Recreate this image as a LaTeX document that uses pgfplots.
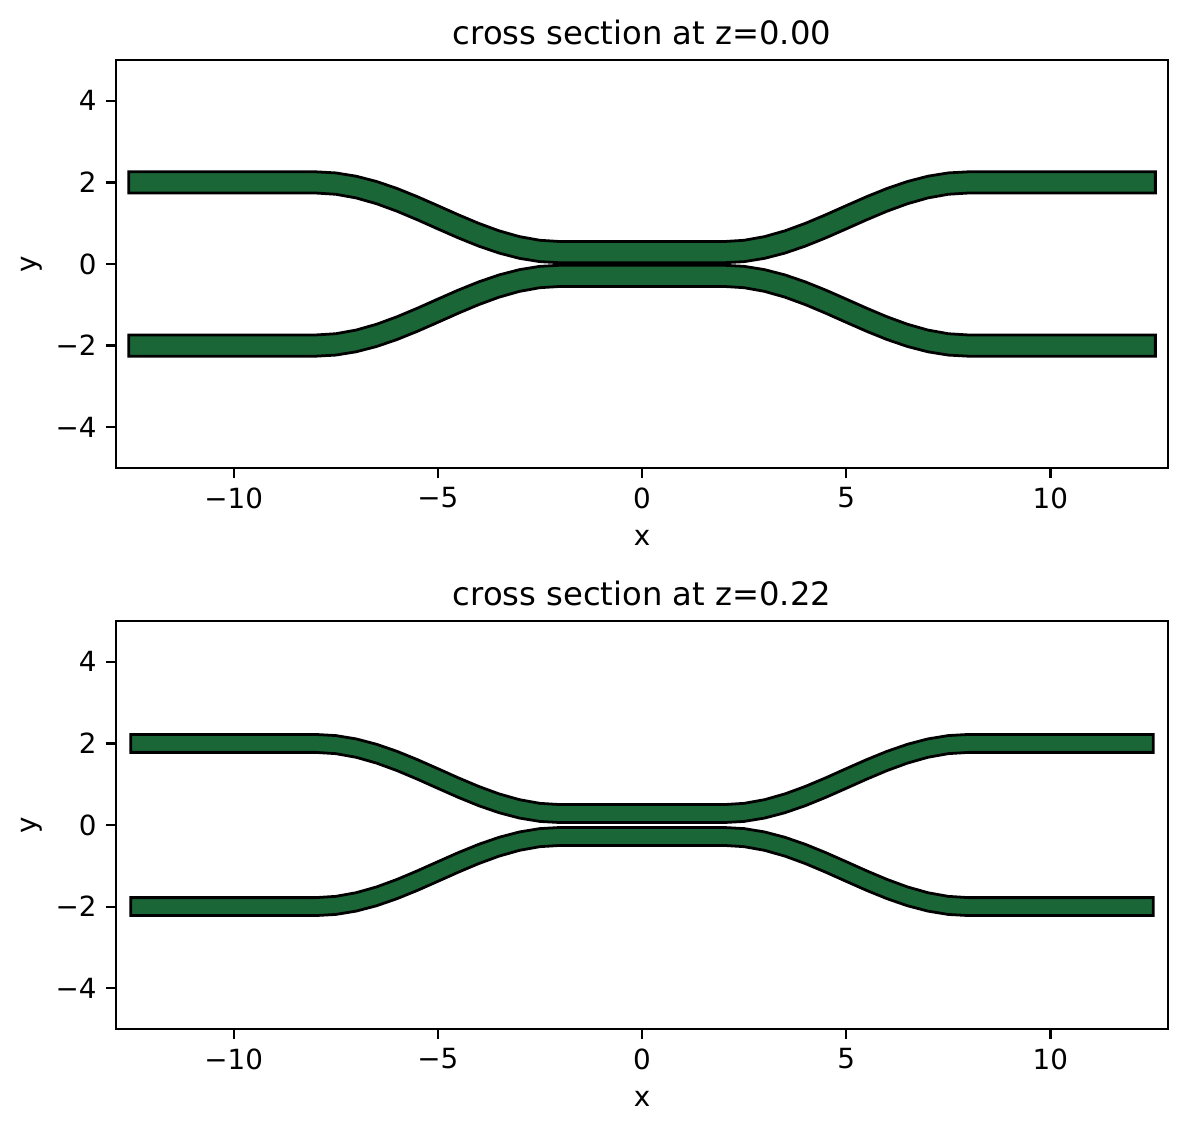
\documentclass[border=0pt]{standalone}
\usepackage{fontspec}
\setmainfont{DejaVu Sans}
\usepackage{pgfplots}
\pgfplotsset{compat=1.18}
\definecolor{wg}{RGB}{27,102,55}
\pgfplotsset{
 wgax/.style={
  scale only axis, width=378.72pt, height=146.88pt,
  xmin=-12.88, xmax=12.88, ymin=-5, ymax=5,
  xtick={-10,-5,0,5,10}, xticklabels={−10,−5,0,5,10},
  ytick={-4,-2,0,2,4}, yticklabels={−4,−2,0,2,4},
  tick align=outside, xtick pos=bottom, ytick pos=left,
  major tick length=3.5pt,
  every tick/.style={black, line width=0.8pt},
  axis line style={line width=0.8pt},
  tick label style={font=\fontsize{10}{12}\selectfont},
  label style={font=\fontsize{10}{12}\selectfont},
  title style={font=\fontsize{11.6}{13.6}\selectfont, yshift=-4.2pt},
  xlabel=x, ylabel=y, xlabel shift=1pt, ylabel shift=-2.2pt,
 },
 wgp/.style={fill=wg, draw=black, line width=1pt, line join=miter, forget plot}
}
\begin{document}
\begin{tikzpicture}
\useasboundingbox (0,0) rectangle (426.96pt,407.52pt);
\begin{axis}[wgax, at={(41.76pt,239.04pt)}, anchor=south west, title={cross section at z=0.00}]
\addplot[wgp] coordinates {(-12.57,2.26) (-8,2.26) (-7.5,2.2325) (-7,2.1518) (-6.5,2.0223) (-6,1.8514) (-5.5,1.6496) (-5,1.4299) (-4.5,1.2070) (-4,0.9964) (-3.5,0.8131) (-3,0.6710) (-2.5,0.5809) (-2,0.55) (2,0.55) (2.5,0.5809) (3,0.6710) (3.5,0.8131) (4,0.9964) (4.5,1.2070) (5,1.4299) (5.5,1.6496) (6,1.8514) (6.5,2.0223) (7,2.1518) (7.5,2.2325) (8,2.26) (12.57,2.26)
(12.57,1.74) (8,1.74) (7.5,1.7091) (7,1.6190) (6.5,1.4769) (6,1.2936) (5.5,1.0830) (5,0.8601) (4.5,0.6404) (4,0.4386) (3.5,0.2677) (3,0.1382) (2.5,0.0575) (2,0.03) (-2,0.03) (-2.5,0.0575) (-3,0.1382) (-3.5,0.2677) (-4,0.4386) (-4.5,0.6404) (-5,0.8601) (-5.5,1.0830) (-6,1.2936) (-6.5,1.4769) (-7,1.6190) (-7.5,1.7091) (-8,1.74) (-12.57,1.74)} --cycle;
\addplot[wgp] coordinates {(-12.57,-2.26) (-8,-2.26) (-7.5,-2.2325) (-7,-2.1518) (-6.5,-2.0223) (-6,-1.8514) (-5.5,-1.6496) (-5,-1.4299) (-4.5,-1.2070) (-4,-0.9964) (-3.5,-0.8131) (-3,-0.6710) (-2.5,-0.5809) (-2,-0.55) (2,-0.55) (2.5,-0.5809) (3,-0.6710) (3.5,-0.8131) (4,-0.9964) (4.5,-1.2070) (5,-1.4299) (5.5,-1.6496) (6,-1.8514) (6.5,-2.0223) (7,-2.1518) (7.5,-2.2325) (8,-2.26) (12.57,-2.26)
(12.57,-1.74) (8,-1.74) (7.5,-1.7091) (7,-1.6190) (6.5,-1.4769) (6,-1.2936) (5.5,-1.0830) (5,-0.8601) (4.5,-0.6404) (4,-0.4386) (3.5,-0.2677) (3,-0.1382) (2.5,-0.0575) (2,-0.03) (-2,-0.03) (-2.5,-0.0575) (-3,-0.1382) (-3.5,-0.2677) (-4,-0.4386) (-4.5,-0.6404) (-5,-0.8601) (-5.5,-1.0830) (-6,-1.2936) (-6.5,-1.4769) (-7,-1.6190) (-7.5,-1.7091) (-8,-1.74) (-12.57,-1.74)} --cycle;
\end{axis}
\begin{axis}[wgax, at={(41.76pt,37.08pt)}, anchor=south west, title={cross section at z=0.22}]
\addplot[wgp] coordinates {(-12.52,2.22) (-8,2.22) (-7.5,2.1922) (-7,2.1103) (-6.5,1.9789) (-6,1.8061) (-5.5,1.6024) (-5,1.3812) (-4.5,1.1572) (-4,0.9461) (-3.5,0.7627) (-3,0.6207) (-2.5,0.5308) (-2,0.50) (2,0.50) (2.5,0.5308) (3,0.6207) (3.5,0.7627) (4,0.9461) (4.5,1.1572) (5,1.3812) (5.5,1.6024) (6,1.8061) (6.5,1.9789) (7,2.1103) (7.5,2.1922) (8,2.22) (12.52,2.22)
(12.52,1.78) (8,1.78) (7.5,1.7492) (7,1.6593) (6.5,1.5173) (6,1.3339) (5.5,1.1228) (5,0.8988) (4.5,0.6776) (4,0.4739) (3.5,0.3011) (3,0.1697) (2.5,0.0878) (2,0.06) (-2,0.06) (-2.5,0.0878) (-3,0.1697) (-3.5,0.3011) (-4,0.4739) (-4.5,0.6776) (-5,0.8988) (-5.5,1.1228) (-6,1.3339) (-6.5,1.5173) (-7,1.6593) (-7.5,1.7492) (-8,1.78) (-12.52,1.78)} --cycle;
\addplot[wgp] coordinates {(-12.52,-2.22) (-8,-2.22) (-7.5,-2.1922) (-7,-2.1103) (-6.5,-1.9789) (-6,-1.8061) (-5.5,-1.6024) (-5,-1.3812) (-4.5,-1.1572) (-4,-0.9461) (-3.5,-0.7627) (-3,-0.6207) (-2.5,-0.5308) (-2,-0.50) (2,-0.50) (2.5,-0.5308) (3,-0.6207) (3.5,-0.7627) (4,-0.9461) (4.5,-1.1572) (5,-1.3812) (5.5,-1.6024) (6,-1.8061) (6.5,-1.9789) (7,-2.1103) (7.5,-2.1922) (8,-2.22) (12.52,-2.22)
(12.52,-1.78) (8,-1.78) (7.5,-1.7492) (7,-1.6593) (6.5,-1.5173) (6,-1.3339) (5.5,-1.1228) (5,-0.8988) (4.5,-0.6776) (4,-0.4739) (3.5,-0.3011) (3,-0.1697) (2.5,-0.0878) (2,-0.06) (-2,-0.06) (-2.5,-0.0878) (-3,-0.1697) (-3.5,-0.3011) (-4,-0.4739) (-4.5,-0.6776) (-5,-0.8988) (-5.5,-1.1228) (-6,-1.3339) (-6.5,-1.5173) (-7,-1.6593) (-7.5,-1.7492) (-8,-1.78) (-12.52,-1.78)} --cycle;
\end{axis}
\end{tikzpicture}
\end{document}
